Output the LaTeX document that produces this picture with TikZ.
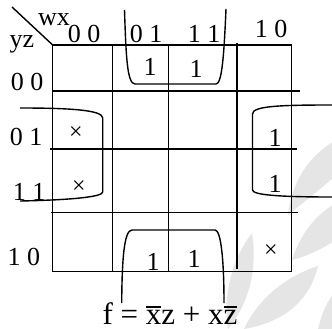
\documentclass[tikz,border=0pt]{standalone}
\usepackage{fontspec}
\setmainfont{Liberation Serif}
\usepackage{xcolor}
\newcommand{\bx}[1]{\leavevmode\vbox{\hrule height 1.5pt\kern1.8pt\hbox{#1}}}

\begin{document}
\begin{tikzpicture}[x=1pt,y=-1pt,line width=1.4pt,
  lbl/.style={inner sep=0pt,anchor=base,font=\fontsize{26}{28}\selectfont},
  ent/.style={inner sep=0pt,font=\fontsize{26}{28}\selectfont},
  dc/.style={inner sep=0pt,font=\fontsize{24}{26}\selectfont}]
  \useasboundingbox (0,0) rectangle (332,329);
  \fill[gray!20] (288,215) .. controls (292,180) and (310,155) .. (336,140) -- (336,175) .. controls (320,190) and (300,205) .. (288,215);
  \fill[gray!20] (292,260) .. controls (300,235) and (315,215) .. (336,203) -- (336,240) .. controls (320,250) and (305,257) .. (292,260);
  \fill[gray!20] (228,329) .. controls (222,290) and (235,255) .. (252,233) .. controls (258,270) and (248,305) .. (228,329);
  \fill[gray!20] (244,329) .. controls (260,295) and (290,275) .. (318,266) .. controls (310,300) and (285,322) .. (244,329);
  \fill[gray!20] (318,329) .. controls (322,312) and (328,300) .. (336,290) -- (336,329) -- cycle;
  \draw (52.7,45) rectangle (291.7,271.3);
  \draw (112.3,45) -- (112.3,271.3);
  \draw (168.3,45) -- (168.3,271.3);
  \draw[line width=1.9pt] (237.3,42.7) -- (237.3,269);
  \draw (52.7,91) -- (300,91);
  \draw (50,149) -- (297,149);
  \draw (51,212.3) -- (298,212.3);
  \draw (12,7) -- (52.7,45);
  \node[lbl] (wx) at (54,26) {wx};
  \node[lbl] (yz) at (22,48) {yz};
  \node[lbl] (col00) at (84,43) {0 0};
  \node[lbl] (col01) at (146,43) {0 1};
  \node[lbl] (col11) at (204,43) {1 1};
  \node[lbl] (col10) at (271,38) {1 0};
  \node[lbl] (row00) at (27,90) {0 0};
  \node[lbl] (row01) at (26,145) {0 1};
  \node[lbl] (row11) at (29,200) {1 1};
  \node[lbl] (row10) at (24,265) {1 0};
  \node[ent] (m4) at (150,67) {1};
  \node[ent] (m12) at (196,69) {1};
  \node[dc] (d1) at (76,133) {×};
  \node[dc] (d3) at (79,187) {×};
  \node[ent] (m9) at (275,138) {1};
  \node[ent] (m11) at (275,184) {1};
  \node[ent] (m6) at (153,262) {1};
  \node[ent] (m14) at (194,259) {1};
  \node[dc] (d10) at (271,251) {×};
  \draw (124.5,10) .. controls (126,55) and (127,84) .. (135,84) -- (216,84) .. controls (222,84) and (224,55) .. (226,9);
  \draw (20,108) .. controls (70,108) and (102.7,110) .. (102.7,118) -- (102.7,192) .. controls (102.7,197) and (70,200) .. (20,201);
  \draw (332,105) .. controls (280,105) and (252.5,106) .. (252.5,114) -- (252.5,190) .. controls (252.5,195) and (280,197) .. (332,197);
  \draw (121.7,303) .. controls (122,260) and (124,230) .. (132,230) -- (215,230) .. controls (221,230) and (224,260) .. (224,303);
  \node[inner sep=0pt,anchor=base,font=\fontsize{31}{33}\selectfont] (f) at (170,324) {f = \bx{x}z + x\bx{z}};
\end{tikzpicture}
\end{document}
